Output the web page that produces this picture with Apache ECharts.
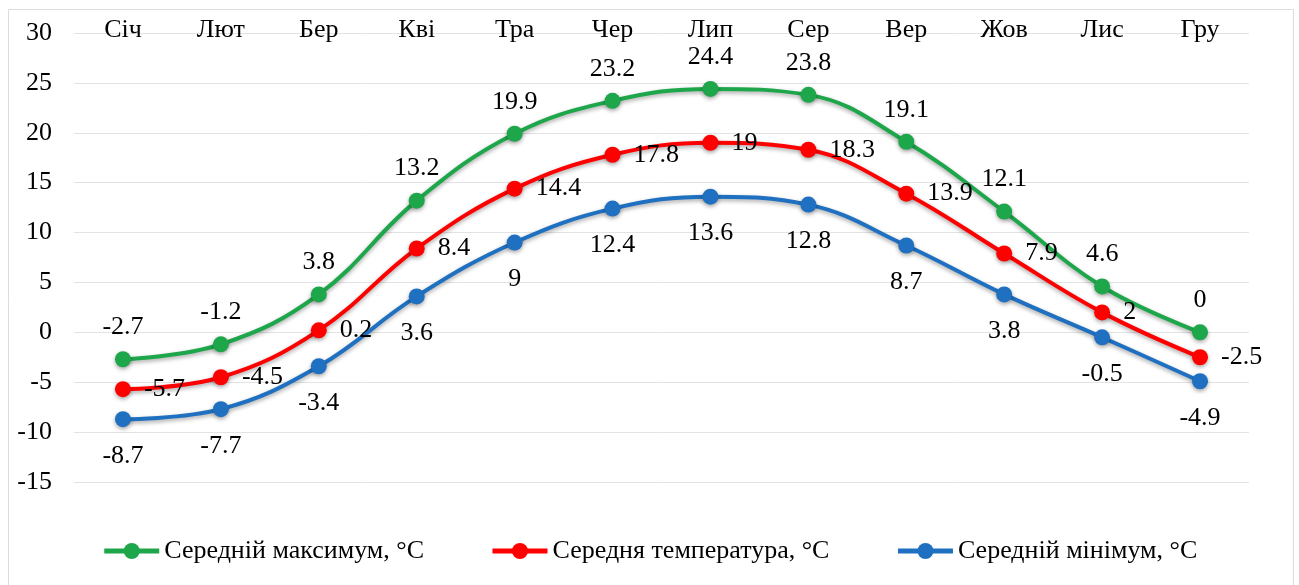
<!DOCTYPE html>
<html>
<head>
<meta charset="utf-8">
<script src="https://cdn.jsdelivr.net/npm/echarts@6/dist/echarts.min.js"></script>
<style>
html,body{margin:0;padding:0;background:#fff;}
#c{width:1299px;height:585px;}
</style>
</head>
<body>
<div id="c"></div>
<script>
const months = ['Січ','Лют','Бер','Кві','Тра','Чер','Лип','Сер','Вер','Жов','Лис','Гру'];
const maxTemp = [-2.7,-1.2,3.8,13.2,19.9,23.2,24.4,23.8,19.1,12.1,4.6,0];
const avgTemp = [-5.7,-4.5,0.2,8.4,14.4,17.8,19,18.3,13.9,7.9,2,-2.5];
const minTemp = [-8.7,-7.7,-3.4,3.6,9,12.4,13.6,12.8,8.7,3.8,-0.5,-4.9];
const seriesNames = ['Середній максимум, °C','Середня температура, °C','Середній мінімум, °C'];
const yTicks = {min:-15, max:30, interval:5};

const font = 'Liberation Serif';
const FS = 26;
const shadow = {shadowColor:'rgba(0,0,0,0.35)', shadowBlur:4, shadowOffsetY:2};

function mk(name, data, color, pos, dist){
  return {
    name, type:'line', data, smooth:0.4,
    symbol:'circle', symbolSize:16,
    lineStyle:Object.assign({color, width:4}, shadow),
    itemStyle:Object.assign({color}, shadow),
    label:{show:true, position:pos, distance:dist, color:'#000', fontSize:FS, fontFamily:font},
    emphasis:{disabled:true}
  };
}

const chart = echarts.init(document.getElementById('c'), null, {renderer:'canvas'});
chart.setOption({
  animation:false,
  backgroundColor:'#fff',
  textStyle:{fontFamily:font},
  graphic:[{type:'rect', shape:{x:8.5,y:9.5,width:1285,height:580}, style:{fill:'none', stroke:'#dcdcdc', lineWidth:1}, z:-1}],
  grid:{left:74, right:50, top:33, bottom:103},
  legend:{
    bottom:16, left:'center', itemWidth:55, itemHeight:20, itemGap:66,
    lineStyle:{width:5},
    textStyle:{fontSize:FS, fontFamily:font, color:'#000'},
    data:seriesNames
  },
  xAxis:{
    type:'category', data:months, position:'top', boundaryGap:true,
    axisLine:{show:false}, axisTick:{show:false},
    axisLabel:{fontSize:FS, fontFamily:font, color:'#000', margin:-10}
  },
  yAxis:{
    type:'value', min:yTicks.min, max:yTicks.max, interval:yTicks.interval,
    axisLine:{show:false}, axisTick:{show:false},
    splitLine:{lineStyle:{color:'#e3e3e3', width:1}},
    axisLabel:{fontSize:FS, fontFamily:font, color:'#000', margin:22}
  },
  series:[
    mk(seriesNames[0], maxTemp, '#1ea64b', 'top', 11),
    mk(seriesNames[1], avgTemp, '#ff0000', 'right', 13),
    mk(seriesNames[2], minTemp, '#1f70c1', 'bottom', 16)
  ]
});
</script>
</body>
</html>
